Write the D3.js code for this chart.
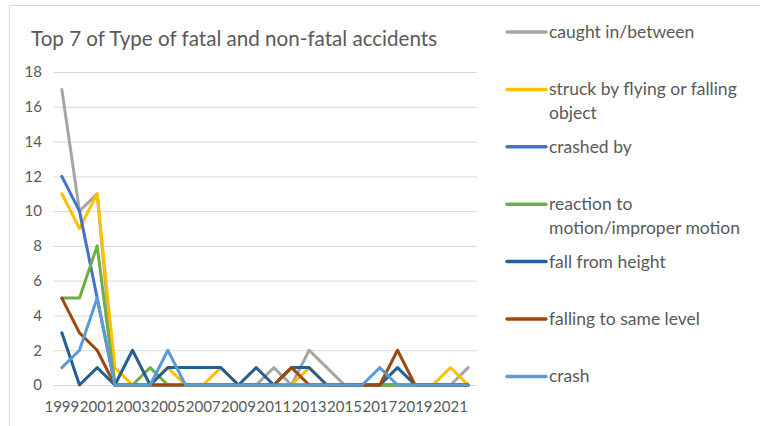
<!DOCTYPE html>
<html>
<head>
<meta charset="utf-8">
<script src="https://cdn.jsdelivr.net/npm/d3@7"></script>
<style>
  body { margin: 0; background: #fff; }
  text { font-family: Lato, "Liberation Sans", sans-serif; fill: #595959; }
</style>
</head>
<body>
<div id="plot"></div>
<script>
// chart data
const years = d3.range(1999, 2023).map(String);
const tickYears = years.filter((d, i) => i % 2 === 0);
const yTicks = [0, 2, 4, 6, 8, 10, 12, 14, 16, 18];

const seriesNames = [
  "caught in/between",
  "struck by flying or falling object",
  "crashed by",
  "reaction to motion/improper motion",
  "fall from height",
  "falling to same level",
  "crash"
];
const caught   = [17,10,11,0,0,0,0,0,0,0,0,0,1,0,2,1,0,0,0,0,0,0,0,1];
const struck   = [11,9,11,1,0,0,1,0,0,1,0,0,0,0,1,0,0,0,0,0,0,0,1,0];
const crashedBy= [12,10,5,0,0,0,0,0,0,0,0,0,0,0,0,0,0,0,0,0,0,0,0,0];
const reaction = [5,5,8,0,0,1,0,0,0,0,0,0,0,0,0,0,0,0,0,0,0,0,0,0];
const fallHeight=[3,0,1,0,2,0,1,1,1,1,0,1,0,1,1,0,0,0,0,1,0,0,0,0];
const fallSame = [5,3,2,0,0,0,0,0,0,0,0,0,0,1,0,0,0,0,0,2,0,0,0,0];
const crash    = [1,2,5,0,0,0,2,0,0,0,0,0,0,0,0,0,0,0,1,0,0,0,0,0];

const colors = ["#A5A5A5", "#FFC000", "#4472C4", "#70AD47", "#255E91", "#9E480E", "#5B9BD5"];
const allSeries = [caught, struck, crashedBy, reaction, fallHeight, fallSame, crash];

const w = 760;
const h = 426;
const margin = {top: 72, right: 283, bottom: 41, left: 53};
const innerWidth = w - margin.left - margin.right;
const innerHeight = h - margin.top - margin.bottom;

const svg = d3.select("div#plot")
    .append("svg")
    .attr("width", w)
    .attr("height", h);

// chart border (runs off the right and bottom edges)
svg.append("path")
    .attr("d", `M9.5,${h} V5.5 H${w}`)
    .attr("fill", "none")
    .attr("stroke", "#D9D9D9");

svg.append("text")
    .attr("x", 31)
    .attr("y", 46)
    .attr("font-size", 20.6)
    .text("Top 7 of Type of fatal and non-fatal accidents");

const xScale = d3.scaleBand()
    .domain(years)
    .range([0, innerWidth]);

const yScale = d3.scaleLinear()
    .domain([0, 18])
    .range([innerHeight, 0]);

const plot = svg.append("g")
    .attr("transform", `translate(${margin.left}, ${margin.top})`);

// gridlines
const yAxis = d3.axisLeft(yScale)
    .tickValues(yTicks)
    .tickSize(-innerWidth)
    .tickPadding(11);

plot.append("g")
    .attr("class", "yAxis")
    .call(yAxis)
    .call(g => g.select(".domain").remove())
    .call(g => g.selectAll(".tick line").attr("stroke", "#D9D9D9"))
    .call(g => g.selectAll(".tick text")
        .attr("font-size", 15)
        .attr("font-family", "Lato, 'Liberation Sans', sans-serif")
        .attr("fill", "#595959"));

const xAxis = d3.axisBottom(xScale)
    .tickValues(tickYears)
    .tickSize(0)
    .tickPadding(16);

plot.append("g")
    .attr("class", "xAxis")
    .attr("transform", `translate(0, ${innerHeight})`)
    .call(xAxis)
    .call(g => g.select(".domain").attr("stroke", "#D9D9D9"))
    .call(g => g.selectAll(".tick text")
        .attr("font-size", 15)
        .attr("font-family", "Lato, 'Liberation Sans', sans-serif")
        .attr("fill", "#595959"));

const line = d3.line()
    .x((d, i) => xScale(years[i]) + xScale.bandwidth() / 2)
    .y(d => yScale(d));

plot.selectAll("path.series")
    .data(allSeries)
    .enter().append("path")
    .attr("class", "series")
    .attr("d", line)
    .attr("fill", "none")
    .attr("stroke", (d, i) => colors[i])
    .attr("stroke-width", 3)
    .attr("stroke-linejoin", "round")
    .attr("stroke-linecap", "round");

// legend
const legendLines = [
  ["caught in/between"],
  ["struck by flying or falling", "object"],
  ["crashed by"],
  ["reaction to", "motion/improper motion"],
  ["fall from height"],
  ["falling to same level"],
  ["crash"]
];

const legend = svg.append("g")
    .selectAll("g")
    .data(seriesNames)
    .enter().append("g")
    .attr("transform", (d, i) => `translate(507, ${32 + i * 57.4})`);

legend.append("line")
    .attr("x1", 0)
    .attr("x2", 39)
    .attr("stroke", (d, i) => colors[i])
    .attr("stroke-width", 3.5)
    .attr("stroke-linecap", "round");

legend.append("text")
    .attr("x", 42)
    .attr("y", 6)
    .attr("font-size", 17.5)
    .selectAll("tspan")
    .data((d, i) => legendLines[i])
    .enter().append("tspan")
    .attr("x", 42)
    .attr("dy", (d, j) => j === 0 ? 0 : 24)
    .text(d => d);
</script>
</body>
</html>
